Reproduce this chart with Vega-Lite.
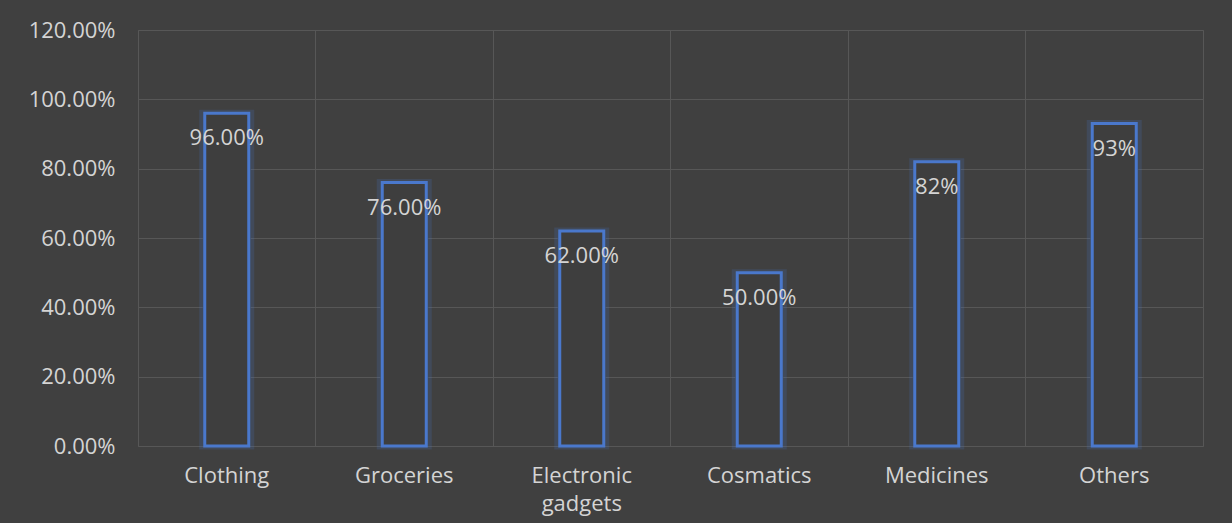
{
  "$schema": "https://vega.github.io/schema/vega-lite/v6.json",
  "width": 1065,
  "height": 416,
  "autosize": {"type": "none"},
  "padding": {"left": 138, "top": 30, "right": 29, "bottom": 77},
  "background": "#404040",
  "config": {
    "font": "Open Sans",
    "view": {"stroke": "#575757", "strokeWidth": 1},
    "axis": {"domain": false, "ticks": false, "gridColor": "#575757", "gridWidth": 1, "labelColor": "#d4d4d4", "labelFont": "Open Sans", "labelFontSize": 22, "labelOverlap": false, "title": null}
  },
  "data": {
    "values": [
      {"category": "Clothing", "value": 0.96, "label": "96.00%"},
      {"category": "Groceries", "value": 0.76, "label": "76.00%"},
      {"category": "Electronic gadgets", "value": 0.62, "label": "62.00%"},
      {"category": "Cosmatics", "value": 0.50, "label": "50.00%"},
      {"category": "Medicines", "value": 0.82, "label": "82%"},
      {"category": "Others", "value": 0.93, "label": "93%"}
    ]
  },
  "encoding": {
    "x": {
      "field": "category", "type": "nominal", "sort": null,
      "scale": {"paddingInner": 0, "paddingOuter": 0},
      "axis": {"labelAngle": 0, "labelPadding": 19, "grid": true, "bandPosition": 0, "labelExpr": "datum.value == 'Electronic gadgets' ? ['Electronic', 'gadgets'] : datum.value", "labelLineHeight": 28, "labelBaseline": "top"}
    },
    "y": {
      "field": "value", "type": "quantitative",
      "scale": {"domain": [0, 1.2]},
      "axis": {"format": ".2%", "values": [0, 0.2, 0.4, 0.6, 0.8, 1.0, 1.2], "labelPadding": 23, "grid": true}
    }
  },
  "layer": [
    {"mark": {"type": "bar", "width": 48, "fill": "#404040", "stroke": "#4472c4", "strokeWidth": 7, "strokeOpacity": 0.2}},
    {"mark": {"type": "bar", "width": 44, "fill": "#3e3e3e", "stroke": "#4a78cc", "strokeWidth": 3}},
    {"mark": {"type": "text", "dy": 25, "baseline": "middle", "fontSize": 22, "color": "#d4d4d4", "font": "Open Sans"}, "encoding": {"text": {"field": "label"}}}
  ]
}
